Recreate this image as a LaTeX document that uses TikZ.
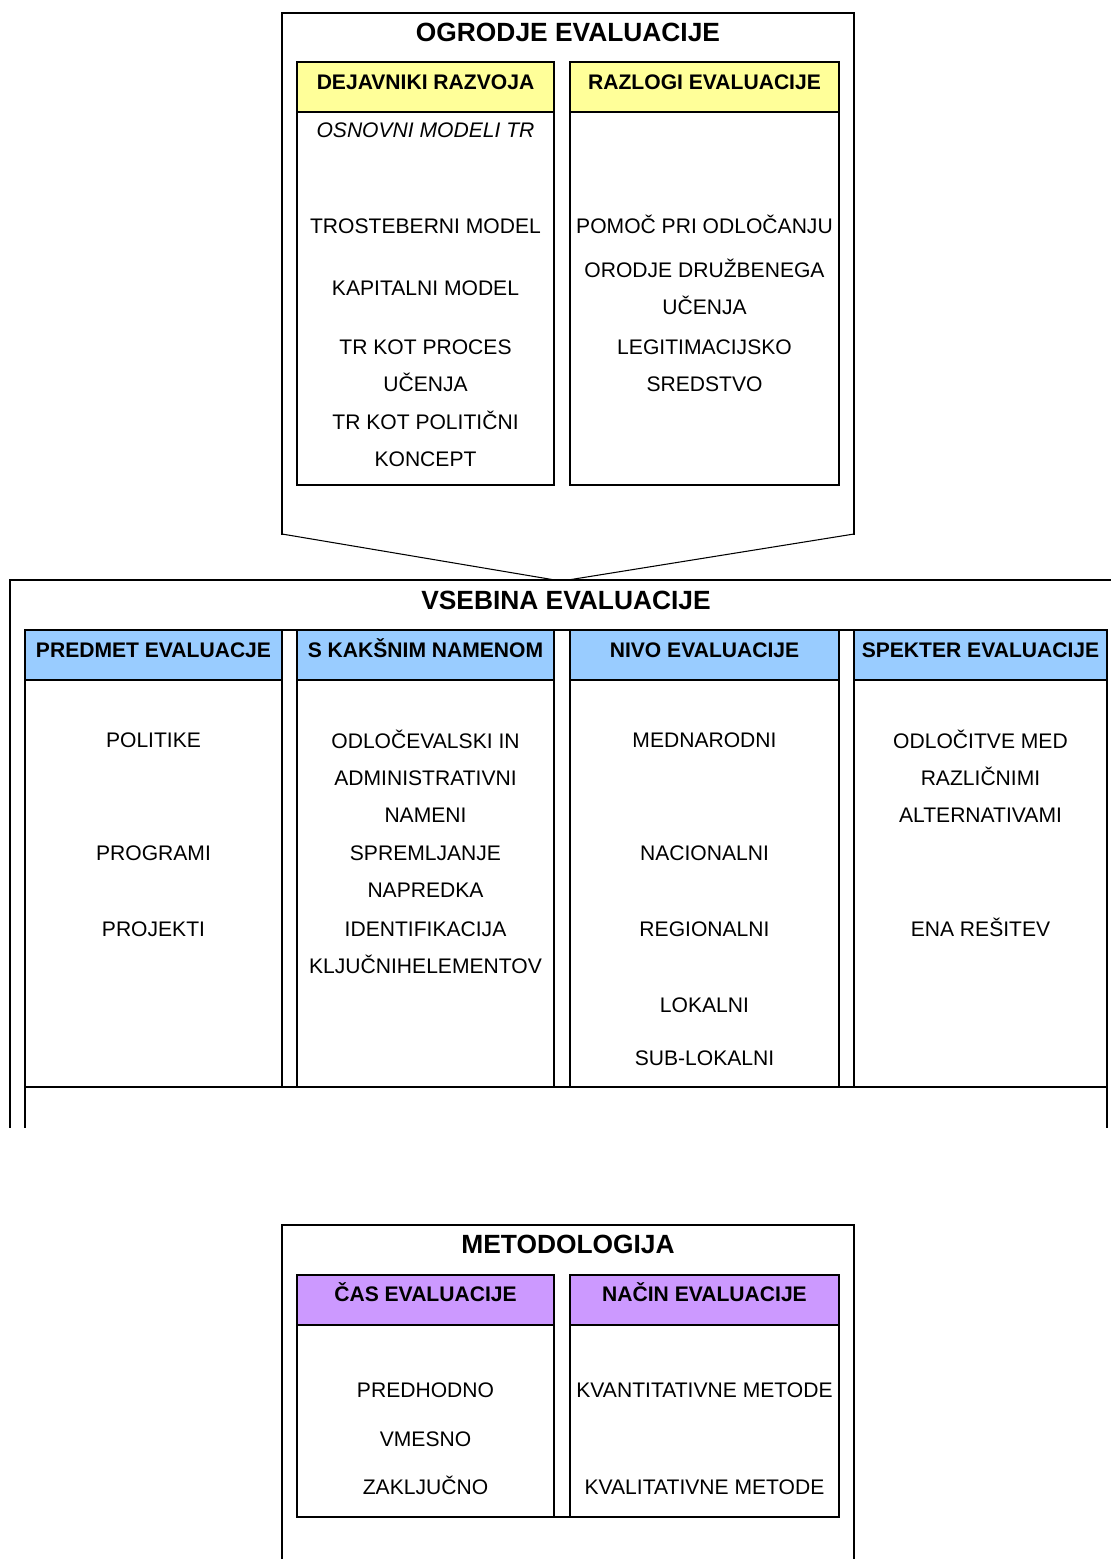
\documentclass[tikz,border=0pt]{standalone}
\usepackage{fontspec}
\setmainfont{Liberation Sans}
\definecolor{hdryellow}{HTML}{FFFF99}
\definecolor{hdrblue}{HTML}{99CCFF}
\definecolor{hdrviolet}{HTML}{CC99FF}

\begin{document}
\begin{tikzpicture}[x=0.02cm,y=-0.02cm,line cap=rect,line join=miter,
  frame/.style={line width=1.1pt},
  cell/.style={line width=1.1pt},
  funnel/.style={line width=0.6pt,line cap=round},
  ttl/.style={font=\fontsize{15}{18}\selectfont\bfseries,text height=10.7pt,text depth=0pt,inner sep=0pt},
  hdr/.style={font=\fontsize{12}{14}\selectfont\bfseries,text height=8.6pt,text depth=0pt,inner sep=0pt},
  itm/.style={font=\fontsize{12}{21}\selectfont,align=center,inner sep=0pt,anchor=base}]
  \useasboundingbox (0,0) rectangle (1110,1559);
  % ogrodje evalvacije
  \draw[frame] (282,534) -- (282,13) -- (854,13) -- (854,534);
  \node[ttl] (ogrTitle) at (568,32) {OGRODJE EVALUACIJE};
  \foreach \xa/\xb in {297/554,570/839} {
    \draw[cell,fill=hdryellow] (\xa,62) rectangle (\xb,112);
    \draw[cell] (\xa,112) rectangle (\xb,485);
  }
  \node[hdr] (dejHead) at (425.5,82) {DEJAVNIKI RAZVOJA};
  \node[hdr] (razHead) at (704.5,82) {RAZLOGI EVALUACIJE};
  % (base = baseline of the last line)
  \node[itm,font=\fontsize{12}{21}\selectfont\itshape] (dejA) at (425.5,137.6) {OSNOVNI MODELI TR};
  \node[itm] (dejB) at (425.5,233.6) {TROSTEBERNI MODEL};
  \node[itm] (dejC) at (425.5,295.6) {KAPITALNI MODEL};
  \node[itm] (dejD) at (425.5,391.6) {TR KOT PROCES\\UČENJA};
  \node[itm] (dejE) at (425.5,466.6) {TR KOT POLITIČNI\\KONCEPT};
  \node[itm] (razA) at (704.5,233.6) {POMOČ PRI ODLOČANJU};
  \node[itm] (razB) at (704.5,314.6) {ORODJE DRUŽBENEGA\\UČENJA};
  \node[itm] (razC) at (704.5,391.6) {LEGITIMACIJSKO\\SREDSTVO};
  % lijak do vsebine
  \coordinate (ogrL) at (282,534);
  \coordinate (ogrR) at (854,534);
  \coordinate (vsbL) at (555,580);
  \coordinate (vsbR) at (568,580);
  \draw[funnel] (ogrL) -- (vsbL);
  \draw[funnel] (ogrR) -- (vsbR);
  % vsebina evalvacije
  \draw[frame] (1110,580) -- (10,580) -- (10,1127);
  \node[ttl] (vsbTitle) at (566,600) {VSEBINA EVALUACIJE};
  \foreach \xa/\xb in {25/282,297/554,570/839,854/1107} {
    \draw[cell,fill=hdrblue] (\xa,630) rectangle (\xb,680);
    \draw[cell] (\xa,680) rectangle (\xb,1087);
  }
  \draw[cell] (25,630) -- (1107,630);
  \draw[cell] (25,1127) -- (25,1087) -- (1107,1087) -- (1107,1127);
  \node[hdr] (predHead) at (153.5,650) {PREDMET EVALUACJE};
  \node[hdr] (namHead) at (425.5,650) {S KAKŠNIM NAMENOM};
  \node[hdr] (nivHead) at (704.5,650) {NIVO EVALUACIJE};
  \node[hdr] (spkHead) at (980.5,650) {SPEKTER EVALUACIJE};
  \node[itm] (predA) at (153.5,747.6) {POLITIKE};
  \node[itm] (predB) at (153.5,860.6) {PROGRAMI};
  \node[itm] (predC) at (153.5,936.6) {PROJEKTI};
  \node[itm] (namA) at (425.5,822.6) {ODLOČEVALSKI IN\\ADMINISTRATIVNI\\NAMENI};
  \node[itm] (namB) at (425.5,897.6) {SPREMLJANJE\\NAPREDKA};
  \node[itm] (namC) at (425.5,973.6) {IDENTIFIKACIJA\\KLJUČNIHELEMENTOV};
  \node[itm] (nivA) at (704.5,747.6) {MEDNARODNI};
  \node[itm] (nivB) at (704.5,860.6) {NACIONALNI};
  \node[itm] (nivC) at (704.5,936.6) {REGIONALNI};
  \node[itm] (nivD) at (704.5,1012.6) {LOKALNI};
  \node[itm] (nivE) at (704.5,1065.6) {SUB-LOKALNI};
  \node[itm] (spkA) at (980.5,822.6) {ODLOČITVE MED\\RAZLIČNIMI\\ALTERNATIVAMI};
  \node[itm] (spkB) at (980.5,936.6) {ENA REŠITEV};
  % metodologija
  \draw[frame] (282,1559) -- (282,1225) -- (854,1225) -- (854,1559);
  \node[ttl] (metTitle) at (568,1244) {METODOLOGIJA};
  \foreach \xa/\xb in {297/554,570/839} {
    \draw[cell,fill=hdrviolet] (\xa,1275) rectangle (\xb,1325);
    \draw[cell] (\xa,1325) rectangle (\xb,1517);
  }
  \draw[cell] (297,1517) -- (839,1517);
  \node[hdr] (casHead) at (425.5,1294) {ČAS EVALUACIJE};
  \node[hdr] (nacHead) at (704.5,1294) {NAČIN EVALUACIJE};
  \node[itm] (casA) at (425.5,1397.6) {PREDHODNO};
  \node[itm] (casB) at (425.5,1446.6) {VMESNO};
  \node[itm] (casC) at (425.5,1494.6) {ZAKLJUČNO};
  \node[itm] (nacA) at (704.5,1397.6) {KVANTITATIVNE METODE};
  \node[itm] (nacB) at (704.5,1494.6) {KVALITATIVNE METODE};
\end{tikzpicture}
\end{document}
